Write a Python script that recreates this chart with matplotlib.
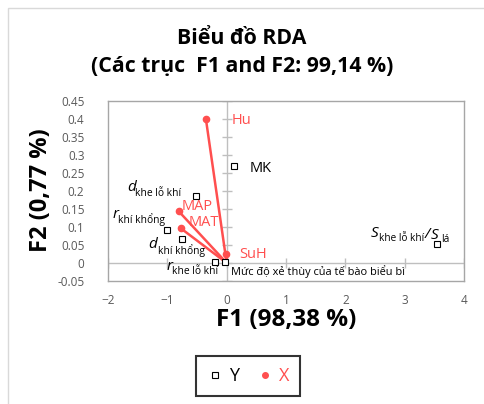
import matplotlib
matplotlib.use("Agg")
import matplotlib.pyplot as plt
from matplotlib.lines import Line2D
from matplotlib.patches import Rectangle

plt.rcParams['font.family'] = ['Open Sans', 'DejaVu Sans']

# Y variables (open squares)
y_names = ["MK", "d_khe", "r_khi", "d_khi", "r_khe", "xe_thuy", "S_ratio"]
y_f1 = [0.13, -0.52, -1.00, -0.76, -0.19, -0.02, 3.55]
y_f2 = [0.27, 0.185, 0.093, 0.066, 0.002, 0.002, 0.053]

# X variables (red vectors)
x_names = ["Hu", "MAP", "MAT", "SuH"]
x_f1 = [-0.35, -0.81, -0.77, -0.005]
x_f2 = [0.40, 0.144, 0.096, 0.025]

xticks = [-2, -1, 0, 1, 2, 3, 4]
yticks = [-0.05, 0, 0.05, 0.1, 0.15, 0.2, 0.25, 0.3, 0.35, 0.4, 0.45]
ytick_labels = ["-0.05", "0", "0.05", "0.1", "0.15", "0.2", "0.25", "0.3", "0.35", "0.4", "0.45"]

red = "#ff4f4f"
grey = "#bfbfbf"

fig = plt.figure(figsize=(4.84, 4.04), dpi=100)
fig.patches.append(Rectangle((8 / 484, -0.1), 1.2, 1 - 8 / 404 + 0.1, transform=fig.transFigure,
                             fill=False, edgecolor="#d9d9d9", linewidth=1))
ax = fig.add_axes([108 / 484, 1 - 281 / 404, 356 / 484, 180 / 404])

ax.set_xlim(-2, 4)
ax.set_ylim(-0.05, 0.45)
ax.set_xticks(xticks)
ax.set_yticks(yticks)
ax.set_yticklabels(ytick_labels)
ax.tick_params(length=0, labelsize=8.5, colors="#595959")
ax.tick_params(axis="y", pad=17)
ax.tick_params(axis="x", pad=9)
for s in ax.spines.values():
    s.set_color("#a6a6a6")
    s.set_linewidth(1)

# zero axes with cross ticks
ax.axhline(0, color=grey, lw=1, zorder=1)
ax.axvline(0, color=grey, lw=1, zorder=1)
ax.plot([0] * len(yticks), yticks, ls="none", marker="_", ms=7, mew=1, color=grey, zorder=1)
ax.plot(xticks, [0] * len(xticks), ls="none", marker="|", ms=7, mew=1, color=grey, zorder=1)

# vectors
for xv, yv in zip(x_f1, x_f2):
    ax.plot([0, xv], [0, yv], color=red, lw=1.8, zorder=3)
ax.plot(x_f1, x_f2, ls="none", marker="o", ms=4.5, color=red, zorder=4)
ax.plot(y_f1, y_f2, ls="none", marker="s", ms=4.3, mfc="white", mec="black", mew=0.8, zorder=5)


def lab(x, y, txt, dx, dy, size=10, color="black", style="normal"):
    ax.annotate(txt, (x, y), xytext=(dx, -dy), textcoords="offset pixels",
                ha="left", va="center", fontsize=size, color=color, style=style, zorder=6)


# Y labels
lab(y_f1[0], y_f2[0], "MK", 15, 3, size=10.5)
lab(y_f1[1], y_f2[1], "d", -69, -9, size=11, style="italic")
lab(y_f1[1], y_f2[1], "khe lỗ khí", -61, -3, size=7.4)
lab(y_f1[2], y_f2[2], "r", -55, -15, size=11, style="italic")
lab(y_f1[2], y_f2[2], "khí khổng", -49, -10, size=7.4)
lab(y_f1[3], y_f2[3], "d", -33, 5, size=11, style="italic")
lab(y_f1[3], y_f2[3], "khí khổng", -24, 11, size=7.4)
lab(y_f1[4], y_f2[4], "r", -49, 4, size=11, style="italic")
lab(y_f1[4], y_f2[4], "khe lỗ khí", -43, 9, size=7.4)
lab(y_f1[5], y_f2[5], "Mức độ xẻ thùy của tế bào biểu bì", 6, 9, size=7.9)
lab(y_f1[6], y_f2[6], "S", -67, -10, size=11, style="italic")
lab(y_f1[6], y_f2[6], "khe lỗ khí", -58, -5, size=7.2)
lab(y_f1[6], y_f2[6], "/", -13, -9, size=11, style="italic")
lab(y_f1[6], y_f2[6], "S", -7, -8, size=11, style="italic")
lab(y_f1[6], y_f2[6], "lá", 4, -4, size=7.2)

# X labels
lab(x_f1[0], x_f2[0], "Hu", 26, 1, size=10.5, color=red)
lab(x_f1[1], x_f2[1], "MAP", 3, -5, size=10.5, color=red)
lab(x_f1[2], x_f2[2], "MAT", 8, -6, size=10.5, color=red)
lab(x_f1[3], x_f2[3], "SuH", 13, 0, size=10.5, color=red)

fig.text(0.5, 1 - 39 / 404, "Biểu đồ RDA", ha="center", va="center", fontsize=15.3, fontweight="bold")
fig.text(0.5, 1 - 67 / 404, "(Các trục  F1 and F2: 99,14 %)", ha="center", va="center",
         fontsize=15.3, fontweight="bold")
fig.text(286 / 484, 1 - 320 / 404, "F1 (98,38 %)", ha="center", va="center", fontsize=17.5, fontweight="bold")
fig.text(41 / 484, 1 - 190 / 404, "F2 (0,77 %)", ha="center", va="center", fontsize=17,
         fontweight="bold", rotation=90)

handles = [Line2D([], [], ls="none", marker="s", ms=4, mfc="white", mec="black", mew=0.8),
           Line2D([], [], ls="none", marker="o", ms=4, color=red)]
leg = fig.legend(handles, ["Y", "X"], loc="center", bbox_to_anchor=(248 / 484, 1 - 376 / 404), ncol=2,
                 fontsize=13, frameon=True, fancybox=False, handlelength=0.9, handletextpad=0.3,
                 columnspacing=1.0, borderpad=0.6, borderaxespad=0)
leg.get_frame().set_edgecolor("black")
leg.get_frame().set_linewidth(1.5)
leg.get_texts()[1].set_color(red)

fig.savefig("out.png", dpi=100)
